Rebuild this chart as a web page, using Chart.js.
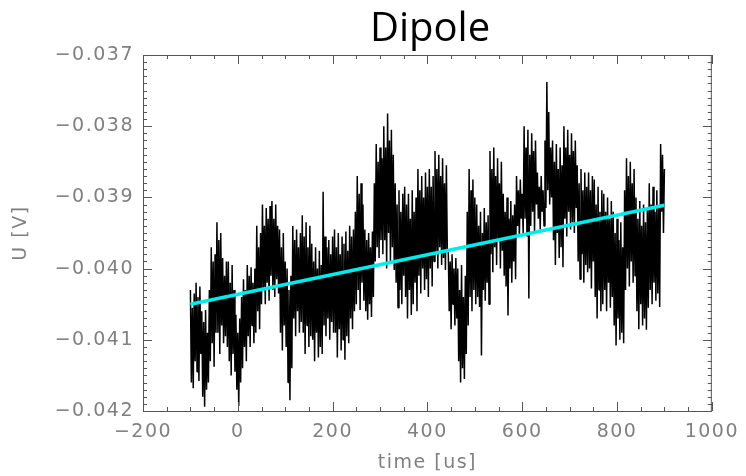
<!DOCTYPE html>
<html>
<head>
<meta charset="utf-8">
<script src="https://cdn.jsdelivr.net/npm/chart.js@4.4.1/dist/chart.umd.min.js"></script>
<style>
  html, body { margin: 0; padding: 0; background: #fff; }
</style>
</head>
<body>
<canvas id="myChart" width="746" height="476"></canvas>
<script>
// signal sampled every 2 us starting at -100 us
const tStart = -100;
const tStep = 2;
const signal = [
  -0.04030, -0.04160, -0.04055, -0.04168, -0.04035, -0.04130,
  -0.04020, -0.04145, -0.04040, -0.04158, -0.04025, -0.04120,
  -0.04060, -0.04180, -0.04075, -0.04194, -0.04058, -0.04170, -0.04090, -0.04160,
  -0.04030, -0.04130, -0.03970, -0.04105, -0.03990, -0.04138, -0.03980, -0.04090,
  -0.03935, -0.04090, -0.03960, -0.04120, -0.03950, -0.04080,
  -0.03985, -0.04105, -0.04010, -0.04095, -0.03990, -0.04110,
  -0.03990, -0.04130, -0.04020, -0.04150, -0.03995, -0.04120, -0.04030, -0.04145,
  -0.04065, -0.04170, -0.04090, -0.04193, -0.04070, -0.04160,
  -0.04040, -0.04140, -0.04015, -0.04110, -0.04030, -0.04130,
  -0.03995, -0.04095, -0.04010, -0.04110, -0.03998, -0.04080, -0.04020, -0.04105, -0.04000, -0.04090,
  -0.03940, -0.04060, -0.03970, -0.04085, -0.03950, -0.04050,
  -0.03910, -0.04030, -0.03940, -0.04050, -0.03915, -0.04020, -0.03930, -0.04045, -0.03912, -0.04010,
  -0.03905, -0.04030, -0.03930, -0.04040, -0.03910, -0.04015, -0.03940, -0.04035,
  -0.03945, -0.04090, -0.03970, -0.04115, -0.03950, -0.04080, -0.03990, -0.04110,
  -0.04000, -0.04160, -0.04030, -0.04185, -0.04010, -0.04140,
  -0.03940, -0.04070, -0.03960, -0.04095, -0.03945, -0.04060, -0.03970, -0.04090, -0.03950, -0.04075,
  -0.03925, -0.04090, -0.03955, -0.04120, -0.03935, -0.04080, -0.03970, -0.04110, -0.03940, -0.04095,
  -0.03965, -0.04100, -0.03990, -0.04130, -0.03970, -0.04090, -0.04000, -0.04125, -0.03975, -0.04110, -0.03995, -0.04120,
  -0.03892, -0.04080, -0.03955, -0.04095, -0.03970, -0.04070, -0.03960, -0.04100, -0.03980, -0.04075, -0.03955, -0.04090,
  -0.03945, -0.04090, -0.03970, -0.04125, -0.03950, -0.04085, -0.03980, -0.04115,
  -0.03955, -0.04100, -0.03965, -0.04128, -0.03948, -0.04095, -0.03975, -0.04105,
  -0.03940, -0.04070, -0.03955, -0.04085, -0.03945, -0.04060,
  -0.03920, -0.04050, -0.03870, -0.04030, -0.03895, -0.04058, -0.03880, -0.04020, -0.03910, -0.04045,
  -0.03945, -0.04060, -0.03960, -0.04072, -0.03950, -0.04050, -0.03970, -0.04068, -0.03948, -0.04040,
  -0.03880, -0.03990, -0.03825, -0.03970, -0.03850, -0.03985, -0.03830, -0.03960, -0.03845, -0.03980,
  -0.03800, -0.03960, -0.03830, -0.04000, -0.03782, -0.03950, -0.03820, -0.03990, -0.03805, -0.03970, -0.03840, -0.04002,
  -0.03880, -0.04020, -0.03910, -0.04055, -0.03890, -0.04030, -0.03920, -0.04050, -0.03895, -0.04010,
  -0.03885, -0.04040, -0.03910, -0.04070, -0.03895, -0.04030, -0.03930, -0.04065, -0.03890, -0.04050, -0.03920, -0.04020, -0.03900, -0.04060,
  -0.03860, -0.04010, -0.03890, -0.04035, -0.03870, -0.04000, -0.03900, -0.04030, -0.03865, -0.04015, -0.03885, -0.04040,
  -0.03860, -0.04000, -0.03885, -0.04025, -0.03870, -0.03990,
  -0.03835, -0.03980, -0.03860, -0.04000, -0.03840, -0.03970, -0.03870, -0.03995, -0.03845, -0.03985, -0.03880, -0.04002, -0.03855, -0.03975,
  -0.03975, -0.04060, -0.03990, -0.04085, -0.03980, -0.04050, -0.04000, -0.04080, -0.03985, -0.04070,
  -0.04000, -0.04130, -0.04030, -0.04160, -0.03995, -0.04140, -0.04040, -0.04155, -0.04010, -0.04120,
  -0.03920, -0.04080, -0.03860, -0.04040, -0.03890, -0.04060, -0.03875, -0.04030, -0.03900, -0.04050,
  -0.03910, -0.04040, -0.03940, -0.04054, -0.03920, -0.04122, -0.03950, -0.04030, -0.03915, -0.04045, -0.03935, -0.04020, -0.03925, -0.04050,
  -0.03835, -0.03980, -0.03860, -0.04005, -0.03830, -0.03970, -0.03870, -0.03995, -0.03845, -0.03960, -0.03880, -0.04000, -0.03850, -0.03975,
  -0.03895, -0.04010, -0.03920, -0.04025, -0.03900, -0.04066, -0.03930, -0.04000, -0.03905, -0.04020, -0.03925, -0.03990, -0.03910, -0.04015,
  -0.03870, -0.03940, -0.03890, -0.03955, -0.03875, -0.03930, -0.03895, -0.03950,
  -0.03800, -0.03930, -0.03830, -0.03955, -0.03805, -0.04042, -0.03840, -0.03940, -0.03810, -0.03920, -0.03835, -0.03950, -0.03820, -0.03910,
  -0.03865, -0.03930, -0.03885, -0.03945, -0.03870, -0.03920, -0.03890, -0.03940,
  -0.03820, -0.03915, -0.03738, -0.03890, -0.03780, -0.03910, -0.03830, -0.03900,
  -0.03820, -0.03960, -0.03850, -0.03995, -0.03825, -0.03950, -0.03860, -0.03985, -0.03830, -0.03970, -0.03855, -0.03998,
  -0.03800, -0.03930, -0.03830, -0.03955, -0.03805, -0.03920, -0.03840, -0.03945, -0.03810, -0.03935, -0.03835, -0.03950, -0.03820, -0.03915,
  -0.03855, -0.03990, -0.03880, -0.04015, -0.03860, -0.03980, -0.03890, -0.04020, -0.03865, -0.03995, -0.03885, -0.04005,
  -0.03865, -0.04000, -0.03890, -0.04028, -0.03870, -0.03990,
  -0.03875, -0.04040, -0.03910, -0.04070, -0.03885, -0.04030, -0.03920, -0.04060, -0.03890, -0.04050,
  -0.03895, -0.04030, -0.03920, -0.04060, -0.03900, -0.04020, -0.03930, -0.04055, -0.03905, -0.04040,
  -0.03920, -0.04080, -0.03950, -0.04108, -0.03930, -0.04070, -0.03960, -0.04100, -0.03935, -0.04090, -0.03970, -0.04105,
  -0.03890, -0.04030, -0.03845, -0.04000, -0.03870, -0.04025, -0.03850, -0.03990, -0.03880, -0.04020, -0.03860, -0.04010,
  -0.03900, -0.04060, -0.03930, -0.04085, -0.03905, -0.04050, -0.03940, -0.04080, -0.03910, -0.04070, -0.03935, -0.04086, -0.03915, -0.04055,
  -0.03880, -0.04030, -0.03910, -0.04050, -0.03885, -0.04020, -0.03920, -0.04045, -0.03890, -0.04035, -0.03915, -0.04054,
  -0.03825, -0.03920, -0.03840, -0.03950, -0.03860
];

// linear fit (cyan)
const fitTimes = [-100, 900];
const fitValues = [-0.04050, -0.03911];

const xTicks = [-200, 0, 200, 400, 600, 800, 1000];
const yTicks = [-0.042, -0.041, -0.040, -0.039, -0.038, -0.037];

const signalPts = signal.map((v, i) => ({ x: tStart + i * tStep, y: v }));
const fitPts = fitTimes.map((t, i) => ({ x: t, y: fitValues[i] }));

const minus = s => s.replace('-', '\u2212');

// IDL style frame with inward ticks on all sides
const frameTicks = {
  id: 'frameTicks',
  beforeDraw(chart) {
    chart.ctx.letterSpacing = '1.5px';
  },
  afterDraw(chart) {
    const { ctx, chartArea: a } = chart;
    const xs = chart.scales.x, ys = chart.scales.y;
    ctx.save();
    ctx.letterSpacing = '0px';
    ctx.strokeStyle = '#555';
    ctx.lineWidth = 1;
    ctx.strokeRect(a.left + 0.5, a.top + 0.5, a.right - a.left - 1, a.bottom - a.top);
    ctx.beginPath();
    for (let v = xs.min; v <= xs.max + 1e-9; v += 50) {
      const px = Math.round(xs.getPixelForValue(v)) + 0.5;
      const len = (Math.round(v) % 200 === 0) ? 9 : 4;
      ctx.moveTo(px, a.bottom); ctx.lineTo(px, a.bottom - len);
      ctx.moveTo(px, a.top); ctx.lineTo(px, a.top + len);
    }
    for (let k = 0; k <= 50; k++) {
      const v = ys.min + k * 0.0001;
      const py = Math.round(ys.getPixelForValue(v)) + 0.5;
      const len = (k % 10 === 0) ? 9 : 4;
      ctx.moveTo(a.left, py); ctx.lineTo(a.left + len, py);
      ctx.moveTo(a.right, py); ctx.lineTo(a.right - len, py);
    }
    ctx.stroke();

    ctx.fillStyle = '#000';
    ctx.font = '40px "Open Sans"';
    ctx.textAlign = 'center';
    ctx.textBaseline = 'alphabetic';
    ctx.fillText('Dipole', 430, 41);
    ctx.restore();
  }
};

const tickFont = { family: 'DejaVu Sans', size: 19 };

new Chart(document.getElementById('myChart').getContext('2d'), {
  type: 'line',
  data: {
    datasets: [
      {
        label: 'fit',
        data: fitPts,
        borderColor: 'rgb(0, 235, 235)',
        borderWidth: 3.5,
        pointRadius: 0,
        order: 0
      },
      {
        label: 'U',
        data: signalPts,
        borderColor: '#000',
        borderWidth: 1.5,
        borderJoinStyle: 'bevel',
        pointRadius: 0,
        tension: 0,
        order: 1
      }
    ]
  },
  options: {
    responsive: false,
    animation: false,
    layout: { padding: { top: 55, right: 30, left: 0, bottom: 0 } },
    plugins: {
      legend: { display: false },
      tooltip: { enabled: false }
    },
    scales: {
      x: {
        type: 'linear',
        min: -200,
        max: 1000,
        afterBuildTicks: s => { s.ticks = xTicks.map(v => ({ value: v })); },
        afterFit: s => { s.height = 65; },
        grid: { display: false, drawTicks: false },
        border: { display: false },
        ticks: {
          color: '#808080',
          font: tickFont,
          padding: 10,
          maxRotation: 0,
          callback: v => minus(String(v))
        },
        title: {
          display: true,
          text: 'time [us]',
          color: '#808080',
          font: tickFont,
          padding: { top: 0, bottom: 2 }
        }
      },
      y: {
        min: -0.042,
        max: -0.037,
        afterBuildTicks: s => { s.ticks = yTicks.map(v => ({ value: v })); },
        afterFit: s => { s.width = 143; },
        grid: { display: false, drawTicks: false },
        border: { display: false },
        ticks: {
          color: '#808080',
          font: tickFont,
          padding: 9,
          callback: v => minus(v.toFixed(3))
        },
        title: {
          display: true,
          text: 'U [V]',
          color: '#808080',
          font: tickFont,
          padding: { top: 10, bottom: 0 }
        }
      }
    }
  },
  plugins: [frameTicks]
});
</script>
</body>
</html>
